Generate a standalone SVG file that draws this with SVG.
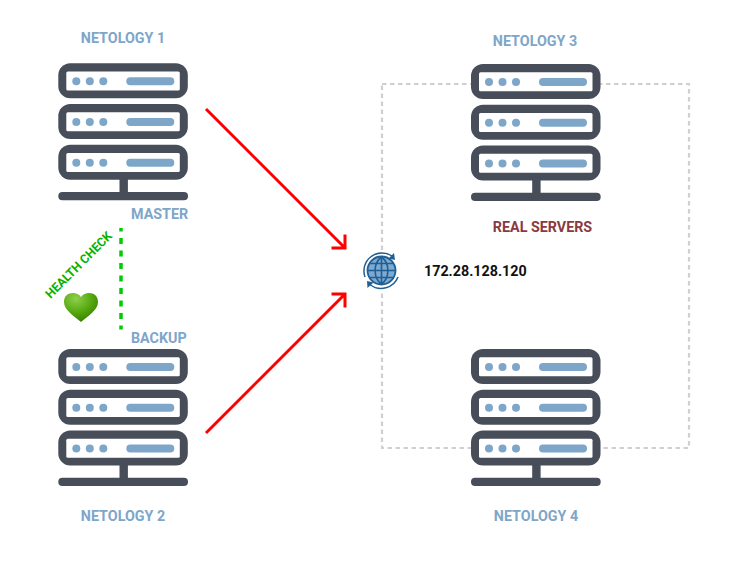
<svg xmlns="http://www.w3.org/2000/svg" width="737" height="564" viewBox="0 0 737 564">
<style>
.lbl{font-family:Roboto,"Liberation Sans",sans-serif;font-weight:700;font-size:14.300px;fill:#7ea6c9}
.dk{fill:#474d59}
.lt{fill:#7ea6c9}
.red{fill:none;stroke:#ff0000;stroke-width:3}
</style>
<defs>
<radialGradient id="hg" cx="0.35" cy="0.2" r="0.85">
<stop offset="0" stop-color="#8ed04a"/><stop offset="0.55" stop-color="#55a80f"/><stop offset="1" stop-color="#357a00"/>
</radialGradient>
<g id="unit">
<rect class="dk" x="0" y="0" width="129.500" height="35" rx="12"/>
<rect x="8" y="8.300" width="113.500" height="19" rx="1.500" fill="#fff"/>
<circle class="lt" cx="18" cy="18" r="4"/><circle class="lt" cx="31.500" cy="18" r="4"/><circle class="lt" cx="45" cy="18" r="4"/>
<rect class="lt" x="68" y="14" width="48" height="8" rx="4"/>
</g>
<g id="server">
<use href="#unit" y="0"/><use href="#unit" y="40.700"/><use href="#unit" y="81.400"/>
<rect class="dk" x="61.200" y="114" width="8.400" height="15"/>
<rect class="dk" x="0" y="128.700" width="129.700" height="8.300" rx="4.100"/>
</g>
</defs>
<rect width="737" height="564" fill="#fff"/>
<g id="real-servers-box"><rect x="382" y="84" width="307" height="364" fill="none" stroke="#d2ced2" stroke-width="2.200" stroke-dasharray="4.500 3.500"/></g>
<g id="connectors">
<path class="red" d="M206 109L345 248M331.500 248H345V234.500"/>
<path class="red" d="M206 433L345 294M331.500 294H345V307.500"/>
<path d="M121 228V329.500" fill="none" stroke="#00cc00" stroke-width="3.500" stroke-dasharray="6 6.500" stroke-dashoffset="2.500"/>
</g>
<g id="netology-1"><use href="#server" x="58.300" y="63.300"/><text class="lbl" x="123" y="43" text-anchor="middle">NETOLOGY 1</text><text class="lbl" x="131" y="218.500">MASTER</text></g>
<g id="netology-2"><use href="#server" x="58.300" y="349"/><text class="lbl" x="123" y="520.500" text-anchor="middle">NETOLOGY 2</text><text class="lbl" x="131" y="342.500">BACKUP</text></g>
<g id="netology-3"><use href="#server" x="471" y="64"/><text class="lbl" x="535" y="46" text-anchor="middle">NETOLOGY 3</text></g>
<g id="netology-4"><use href="#server" x="471" y="349"/><text class="lbl" x="536" y="520.500" text-anchor="middle">NETOLOGY 4</text></g>
<g id="real-servers"><text x="542.500" y="231.500" text-anchor="middle" style="font-family:Roboto,'Liberation Sans',sans-serif;font-weight:700;font-size:14.300px;fill:#8a3a3f">REAL SERVERS</text></g>
<g id="vip">
<rect x="362" y="250" width="40" height="42" fill="#fff"/>
<circle cx="381.500" cy="270.500" r="14" fill="#7ea9d0" stroke="#1f5f94" stroke-width="1.800"/>
<path d="M368 270.500H395M370 263.500H393M370 277.500H393M381.500 257V284M381.500 257C373 263 373 278 381.500 284M381.500 257C390 263 390 278 381.500 284" fill="none" stroke="#1f5f94" stroke-width="1.600"/>
<path d="M365 277A18 18 0 0 1 392 256M370 284.500A18 18 0 0 0 398 277" fill="none" stroke="#1f5f94" stroke-width="1.500"/>
<path d="M394 253L395 260L388.500 258.500ZM367.500 288L367 281L373.500 282.500Z" fill="#1f5f94"/>
<text x="424" y="276" style="font-family:Roboto,'Liberation Sans',sans-serif;font-weight:700;font-size:14.300px;fill:#111">172.28.128.120</text>
</g>
<g id="health-check">
<text transform="translate(50.500 299) rotate(-45)" style="font-family:Roboto,'Liberation Sans',sans-serif;font-weight:700;font-size:12.300px;fill:#00b400">HEALTH CHECK</text>
<path d="M81 322C74 316 64 310 64 302C64 296 68 293 73 293C76 293 79 294 81 297C83 294 86 293 89 293C94 293 98 296 98 302C98 310 88 316 81 322Z" fill="url(#hg)"/>
</g>
</svg>
